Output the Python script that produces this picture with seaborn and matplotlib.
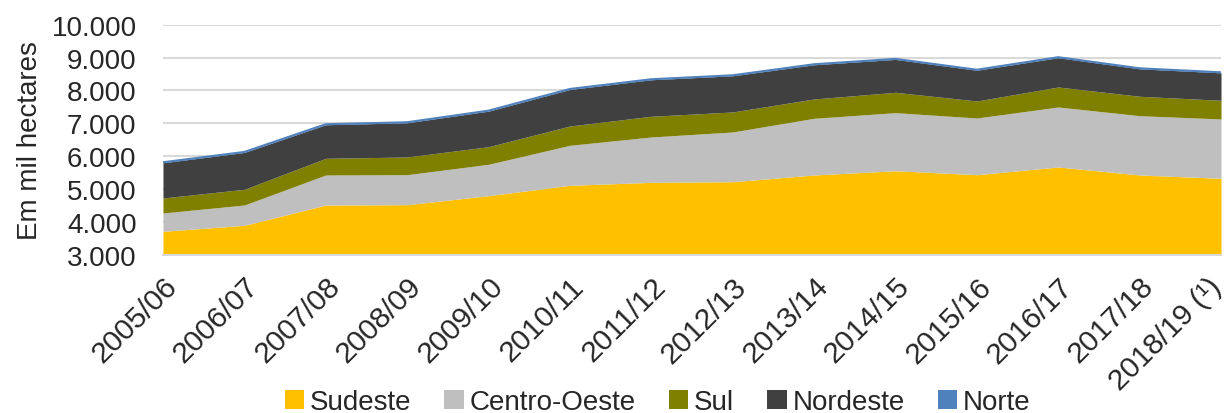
import numpy as np
import pandas as pd
import seaborn as sns
import matplotlib.pyplot as plt
import matplotlib.transforms as mtransforms
from matplotlib.patches import Patch

safras = ["2005/06", "2006/07", "2007/08", "2008/09", "2009/10", "2010/11", "2011/12",
          "2012/13", "2013/14", "2014/15", "2015/16", "2016/17", "2017/18", "2018/19 (¹)"]
sudeste = [3720, 3903, 4520, 4529, 4803, 5118, 5209, 5228, 5432, 5562, 5441, 5675, 5432, 5331]
centro_oeste = [557, 617, 912, 912, 954, 1216, 1378, 1511, 1723, 1764, 1723, 1823, 1802, 1803]
sul = [456, 477, 507, 538, 535, 587, 629, 608, 587, 619, 517, 608, 590, 568]
nordeste = [1070, 1120, 1020, 1040, 1080, 1110, 1110, 1100, 1040, 1000, 935, 890, 835, 835]
norte = [15, 15, 15, 15, 15, 15, 15, 15, 15, 15, 15, 15, 15, 15]

regioes = ["Sudeste", "Centro-Oeste", "Sul", "Nordeste", "Norte"]
cores = ["#ffc000", "#bfbfbf", "#808000", "#404040", "#4f81bd"]

df = pd.DataFrame({"Safra": safras, "Sudeste": sudeste, "Centro-Oeste": centro_oeste,
                   "Sul": sul, "Nordeste": nordeste, "Norte": norte})

sns.set_theme(style="white")
plt.rcParams['font.family'] = ['Liberation Sans', 'DejaVu Sans']

fig = plt.figure(figsize=(12.29, 4.14), dpi=100)
ax = fig.add_axes([0.1326, 0.3816, 0.8609, 0.5564])

x = np.arange(len(df))
ax.stackplot(x, *[df[r] for r in regioes], colors=cores, linewidth=0)
# linha fina do Norte no topo
topo = df[regioes].sum(axis=1)
sns.lineplot(x=x, y=topo, ax=ax, color=cores[4], linewidth=1.5)

ax.set_xlim(0, len(df) - 1)
ax.set_ylim(3000, 10000)
ax.set_yticks(range(3000, 10001, 1000))
ax.set_yticklabels([f"{v:,}".replace(",", ".") for v in range(3000, 10001, 1000)], fontsize=20)
ax.yaxis.grid(True, color="#d9d9d9", linewidth=1.5)
ax.set_axisbelow(True)
ax.set_xticks(x)
ax.set_xticklabels(safras, rotation=45, ha="right", rotation_mode="anchor", fontsize=21.5)
ax.tick_params(axis="y", length=0, pad=19)
ax.tick_params(axis="x", length=0, pad=12)
ax.set_ylabel("Em mil hectares", fontsize=20, labelpad=6)
ax.set_xlabel("")
for s in ["top", "right", "left"]:
    ax.spines[s].set_visible(False)
ax.spines["bottom"].set_color("#d9d9d9")
ax.spines["bottom"].set_linewidth(1.5)

# ultimo rotulo um pouco para a esquerda para caber na figura
ultimo = ax.get_xticklabels()[-1]
ultimo.set_transform(ultimo.get_transform() + mtransforms.ScaledTranslation(-14 / 100, 0, fig.dpi_scale_trans))

handles = [Patch(facecolor=c, edgecolor="none") for c in cores]
fig.legend(handles, regioes, loc="center", bbox_to_anchor=(0.535, 0.026), ncol=5,
           frameon=False, fontsize=20, handlelength=0.7, handleheight=0.7,
           handletextpad=0.2, columnspacing=1.2)

fig.savefig("out.png", dpi=100)
